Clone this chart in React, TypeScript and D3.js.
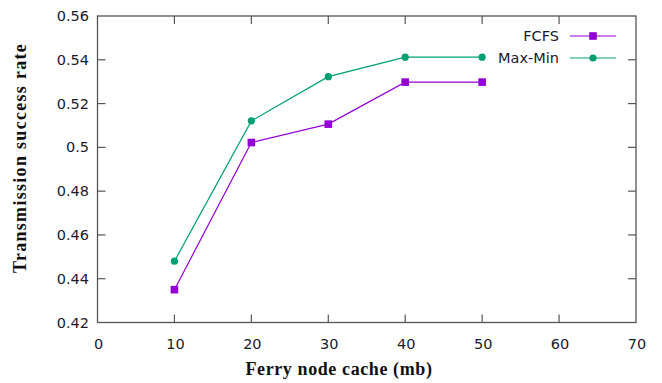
import React from "react";
import * as d3 from "d3";

const xValues = [10, 20, 30, 40, 50];
const fcfs = [0.435, 0.5022, 0.5106, 0.5298, 0.5298];
const maxMin = [0.448, 0.5121, 0.5323, 0.5412, 0.5412];
const xTicks = [0, 10, 20, 30, 40, 50, 60, 70];
const yTicks = [0.42, 0.44, 0.46, 0.48, 0.5, 0.52, 0.54, 0.56];
const yTickLabels = ["0.42", "0.44", "0.46", "0.48", "0.5", "0.52", "0.54", "0.56"];

const W = 662, H = 383;
const L = 97.5, R = 636, T = 16, B = 322.5;

export default function App() {
  const x = d3.scaleLinear().domain([0, 70]).range([L, R]);
  const y = d3.scaleLinear().domain([0.42, 0.56]).range([B, T]);
  const line = d3.line<number>().x((_, i) => x(xValues[i])).y((d) => y(d));
  const purple = "#9400d3";
  const green = "#009e73";
  const axisColor = "#555";
  const tickFont = "'DejaVu Sans', sans-serif";
  return (
    <svg width={W} height={H} style={{ position: "absolute", left: 0, top: 0, background: "#fff" }}>
      <rect x={L} y={T} width={R - L} height={B - T} fill="none" stroke={axisColor} strokeWidth={1.3} />
      {xTicks.map((t) => (
        <g key={"x" + t}>
          {t > 0 && t < 70 && (
            <>
              <line x1={x(t)} x2={x(t)} y1={B} y2={B - 8} stroke={axisColor} strokeWidth={1.2} />
              <line x1={x(t)} x2={x(t)} y1={T} y2={T + 8} stroke={axisColor} strokeWidth={1.2} />
            </>
          )}
          <text x={x(t) + 1} y={349} textAnchor="middle" fontSize={14.5} fontFamily={tickFont} fill="#1a1a2a">
            {t}
          </text>
        </g>
      ))}
      {yTicks.map((t, i) => (
        <g key={"y" + t}>
          {i > 0 && i < yTicks.length - 1 && (
            <>
              <line x1={L} x2={L + 8} y1={y(t)} y2={y(t)} stroke={axisColor} strokeWidth={1.2} />
              <line x1={R} x2={R - 8} y1={y(t)} y2={y(t)} stroke={axisColor} strokeWidth={1.2} />
            </>
          )}
          <text x={89} y={y(t) + 5} textAnchor="end" fontSize={14.5} fontFamily={tickFont} fill="#1a1a2a">
            {yTickLabels[i]}
          </text>
        </g>
      ))}
      <path d={line(maxMin) || ""} fill="none" stroke={green} strokeWidth={1.2} />
      <path d={line(fcfs) || ""} fill="none" stroke={purple} strokeWidth={1.2} />
      {maxMin.map((v, i) => (
        <circle key={"m" + i} cx={x(xValues[i])} cy={y(v)} r={3.6} fill={green} />
      ))}
      {fcfs.map((v, i) => (
        <rect key={"f" + i} x={x(xValues[i]) - 3.8} y={y(v) - 3.8} width={7.6} height={7.6} fill={purple} />
      ))}
      {/* legend */}
      <text x={559} y={41} textAnchor="end" fontSize={14.5} fontFamily={tickFont} fill="#1a1a2a">FCFS</text>
      <line x1={570} x2={616} y1={36} y2={36} stroke={purple} strokeWidth={1.2} />
      <rect x={593 - 3.8} y={36 - 3.8} width={7.6} height={7.6} fill={purple} />
      <text x={559} y={63} textAnchor="end" fontSize={14.5} fontFamily={tickFont} fill="#1a1a2a">Max-Min</text>
      <line x1={570} x2={616} y1={58} y2={58} stroke={green} strokeWidth={1.2} />
      <circle cx={593} cy={58} r={3.6} fill={green} />
      <text x={339} y={375} textAnchor="middle" fontSize={18} letterSpacing={0.6} fontWeight="bold" fontFamily="'Liberation Serif', serif" fill="#111">
        Ferry node cache (mb)
      </text>
      <text transform={`translate(26,158) rotate(-90)`} textAnchor="middle" fontSize={18} letterSpacing={1.3} fontWeight="bold" fontFamily="'Liberation Serif', serif" fill="#111">
        Transmission success rate
      </text>
    </svg>
  );
}
